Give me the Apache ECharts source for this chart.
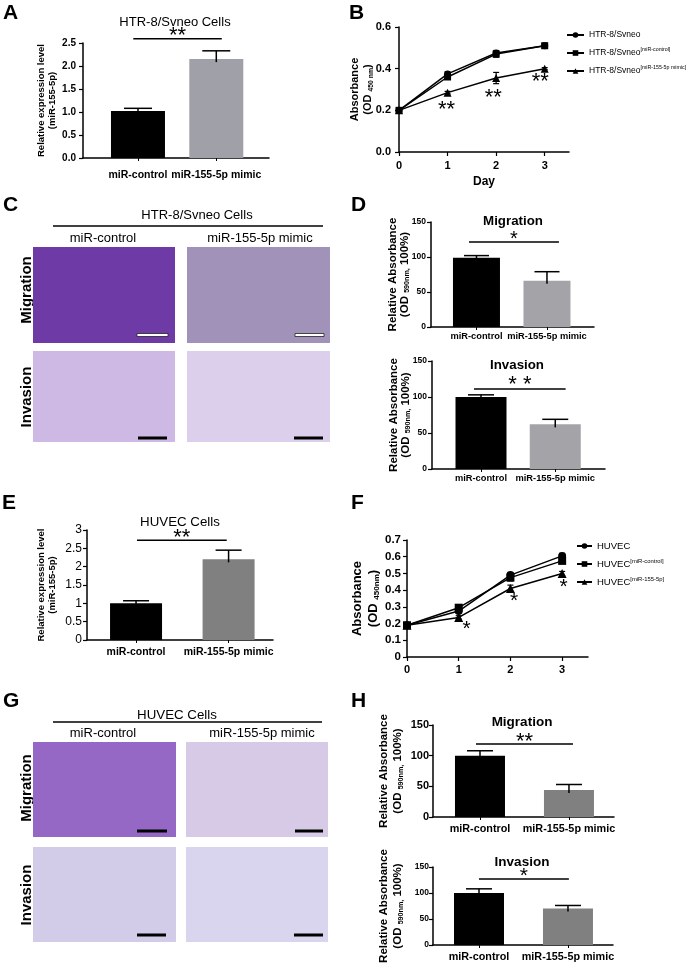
<!DOCTYPE html>
<html>
<head>
<meta charset="utf-8">
<script src="https://cdn.jsdelivr.net/npm/echarts@6/dist/echarts.min.js"></script>
<style>
html, body { margin: 0; padding: 0; background: #fff; }
#app { width: 692px; height: 969px; }
</style>
</head>
<body>
<div id="app"></div>
<script>
const FONT = '"Liberation Sans", Arial, sans-serif';

// bar panels, order: miR-control, miR-155-5p mimic
const barCats = ['miR-control', 'miR-155-5p mimic'];
const aMean = [1.02, 2.15];
const aErr = [0.06, 0.18];
const dMigMean = [99, 66];
const dMigErr = [3, 13];
const dInvMean = [100, 62];
const dInvErr = [3, 7];
const eMean = [1.0, 2.2];
const eErr = [0.07, 0.25];
const hMigMean = [100, 44];
const hMigErr = [8, 9];
const hInvMean = [100, 70];
const hInvErr = [8, 6];

// growth curves
const days = [0, 1, 2, 3];
const bNames = ['HTR-8/Svneo', 'HTR-8/Svneo[miR-control]', 'HTR-8/Svneo[miR-155-5p mimic]'];
const bParental = [0.20, 0.375, 0.475, 0.51];
const bParentalErr = [0.005, 0.01, 0.012, 0.01];
const bControl = [0.20, 0.36, 0.47, 0.51];
const bControlErr = [0.005, 0.01, 0.015, 0.012];
const bMimic = [0.20, 0.285, 0.355, 0.40];
const bMimicErr = [0.005, 0.006, 0.027, 0.005];
const bStarX = [0.98, 1.94, 2.91];
const bStarY = [0.218, 0.277, 0.354];

const fNames = ['HUVEC', 'HUVEC[miR-control]', 'HUVEC[miR-155-5p]'];
const fParental = [0.19, 0.275, 0.49, 0.605];
const fParentalErr = [0.005, 0.012, 0.015, 0.015];
const fControl = [0.19, 0.295, 0.475, 0.575];
const fControlErr = [0.005, 0.01, 0.02, 0.015];
const fMimic = [0.19, 0.237, 0.41, 0.50];
const fMimicErr = [0.005, 0.01, 0.02, 0.012];
const fStarX = [1.15, 2.07, 3.03];
const fStarY = [0.186, 0.35, 0.436];

const grids = [], xAxes = [], yAxes = [], series = [], legends = [];

function axisLine() {
    return { show: true, lineStyle: { color: '#000', width: 1.5 } };
}

function yName(p) {
    return {
        name: p.yName,
        nameLocation: 'middle',
        nameRotate: 90,
        nameGap: p.nameGap,
        nameMoveOverlap: false,
        nameTextStyle: {
            fontFamily: FONT, fontWeight: 'bold', fontSize: p.nameSize, color: '#000',
            lineHeight: p.nameSize * (p.nameLH || 1.2),
            rich: { sub: { fontFamily: FONT, fontWeight: 'bold', fontSize: p.nameSize * 0.62, verticalAlign: 'bottom', lineHeight: p.nameSize * 0.5 } }
        }
    };
}

function barPanel(p) {
    const i = grids.length;
    grids.push({ left: p.box[0], top: p.box[1], width: p.box[2], height: p.box[3] });
    xAxes.push({
        gridIndex: i, type: 'value', min: p.xRange[0], max: p.xRange[1],
        axisLine: axisLine(),
        axisTick: { show: true, customValues: [1, 2], length: 3, lineStyle: { color: '#000', width: 1 } },
        axisLabel: {
            customValues: [1, 2], formatter: v => barCats[Math.round(v) - 1],
            fontFamily: FONT, fontWeight: 'bold', fontSize: p.catSize, color: '#000', margin: p.catMargin
        },
        splitLine: { show: false }
    });
    yAxes.push(Object.assign({
        gridIndex: i, type: 'value', min: 0, max: p.yMax, interval: p.yStep,
        axisLine: axisLine(),
        axisTick: { show: true, length: 4, lineStyle: { color: '#000', width: 1.2 } },
        axisLabel: {
            formatter: p.tickFmt, fontFamily: FONT, fontWeight: p.tickWeight, fontSize: p.tickSize,
            color: '#000', margin: p.tickMargin
        },
        splitLine: { show: false }
    }, yName(p)));
    series.push({
        type: 'bar', xAxisIndex: i, yAxisIndex: i, barWidth: p.barW, silent: true,
        data: p.mean.map((m, k) => ({ value: [k + 1, m], itemStyle: { color: p.colors[k] } }))
    });
    series.push({
        type: 'custom', xAxisIndex: i, yAxisIndex: i, silent: true, clip: false, z: 3,
        data: p.mean.map((m, k) => [k + 1, m, p.err[k]]),
        renderItem: (params, api) => {
            const b = api.coord([api.value(0), api.value(1)]);
            const t = api.coord([api.value(0), api.value(1) + api.value(2)]);
            const hw = p.capW / 2;
            const st = { stroke: '#000', lineWidth: 1.5 };
            return { type: 'group', children: [
                { type: 'line', shape: { x1: b[0], y1: b[1] + 3, x2: t[0], y2: t[1] }, style: st },
                { type: 'line', shape: { x1: t[0] - hw, y1: t[1], x2: t[0] + hw, y2: t[1] }, style: st }
            ] };
        }
    });
    const s = p.sig;
    series.push({
        type: 'custom', xAxisIndex: i, yAxisIndex: i, silent: true, clip: false, z: 3,
        data: [[s.x1, s.x2, s.y]],
        renderItem: (params, api) => {
            const a = api.coord([api.value(0), api.value(2)]);
            const b = api.coord([api.value(1), api.value(2)]);
            return { type: 'group', children: [
                { type: 'line', shape: { x1: a[0], y1: a[1], x2: b[0], y2: b[1] }, style: { stroke: '#000', lineWidth: 1.5 } },
                { type: 'text', x: (a[0] + b[0]) / 2, y: a[1] - s.dy + s.size * 0.15,
                  style: { text: s.text, fontFamily: FONT, fontSize: s.size, fill: '#000', align: 'center', verticalAlign: 'middle' } }
            ] };
        }
    });
}

function linePanel(p) {
    const i = grids.length;
    grids.push({ left: p.box[0], top: p.box[1], width: p.box[2], height: p.box[3] });
    xAxes.push({
        gridIndex: i, type: 'value', min: 0, max: 3.5,
        axisLine: axisLine(),
        axisTick: { show: true, customValues: days, length: 4, lineStyle: { color: '#000', width: 1.2 } },
        axisLabel: { customValues: days, fontFamily: FONT, fontWeight: 'bold', fontSize: p.xTickSize, color: '#000', margin: p.xMargin },
        splitLine: { show: false },
        name: p.xName, nameLocation: 'middle', nameGap: p.xNameGap,
        nameTextStyle: { fontFamily: FONT, fontWeight: 'bold', fontSize: 12, color: '#000' }
    });
    yAxes.push(Object.assign({
        gridIndex: i, type: 'value', min: 0, max: p.yMax, interval: p.yStep,
        axisLine: axisLine(),
        axisTick: { show: true, length: 4, lineStyle: { color: '#000', width: 1.2 } },
        axisLabel: { formatter: p.tickFmt, fontFamily: FONT, fontWeight: 'bold', fontSize: p.tickSize, color: '#000', margin: p.tickMargin },
        splitLine: { show: false }
    }, yName(p)));
    const symbols = ['circle', 'rect', 'triangle'];
    p.groups.forEach((g, k) => {
        series.push({
            type: 'line', name: p.names[k], xAxisIndex: i, yAxisIndex: i, silent: true,
            data: days.map((d, j) => [d, g[j]]),
            symbol: symbols[k], symbolSize: p.symSize[k], showAllSymbol: true,
            lineStyle: { color: '#000', width: 1.5 }, itemStyle: { color: '#000' }, z: 4
        });
        series.push({
            type: 'custom', xAxisIndex: i, yAxisIndex: i, silent: true, clip: false, z: 3,
            data: days.map((d, j) => [d, g[j], p.errs[k][j]]),
            renderItem: (params, api) => {
                const lo = api.coord([api.value(0), api.value(1) - api.value(2)]);
                const hi = api.coord([api.value(0), api.value(1) + api.value(2)]);
                const st = { stroke: '#000', lineWidth: 1.2 };
                return { type: 'group', children: [
                    { type: 'line', shape: { x1: lo[0], y1: lo[1], x2: hi[0], y2: hi[1] }, style: st },
                    { type: 'line', shape: { x1: hi[0] - 3, y1: hi[1], x2: hi[0] + 3, y2: hi[1] }, style: st },
                    { type: 'line', shape: { x1: lo[0] - 3, y1: lo[1], x2: lo[0] + 3, y2: lo[1] }, style: st }
                ] };
            }
        });
    });
    series.push({
        type: 'custom', xAxisIndex: i, yAxisIndex: i, silent: true, clip: false, z: 5,
        data: p.starX.map((x, j) => [x, p.starY[j]]),
        renderItem: (params, api) => {
            const c = api.coord([api.value(0), api.value(1)]);
            return { type: 'text', x: c[0], y: c[1] + p.starSize * 0.15,
                style: { text: p.star, fontFamily: FONT, fontSize: p.starSize, fill: '#000', align: 'center', verticalAlign: 'middle' } };
        }
    });
    legends.push({
        data: p.names, orient: 'vertical', left: p.legendPos[0], top: p.legendPos[1], padding: 0,
        itemWidth: p.legendW, itemHeight: 7, itemGap: p.legendGap, selectedMode: false,
        formatter: name => name.replace(/(\[.*\])/, '{sup|$1}'),
        textStyle: {
            fontFamily: FONT, fontSize: p.legendSize, color: '#000', lineHeight: 12,
            rich: { sup: { fontFamily: FONT, fontSize: p.legendSize * 0.62, color: '#000', verticalAlign: 'top', lineHeight: 7 } }
        }
    });
}

barPanel({
    box: [83, 43, 186, 115], xRange: [0.298, 2.673], yMax: 2.5, yStep: 0.5,
    mean: aMean, err: aErr, colors: ['#000', '#a0a0a8'], barW: 54, capW: 28,
    tickFmt: v => v.toFixed(1), tickWeight: 'bold', tickSize: 10, tickMargin: 7,
    catSize: 10.5, catMargin: 12,
    yName: 'Relative expression level\n(miR-155-5p)', nameSize: 9.5, nameGap: 25,
    sig: { x1: 0.94, x2: 2.07, y: 2.59, text: '**', size: 22, dy: 6.5 }
});

linePanel({
    box: [399, 27, 170, 125], yMax: 0.6, yStep: 0.2, tickFmt: v => v.toFixed(1),
    tickSize: 11, tickMargin: 8, xTickSize: 11, xMargin: 8, xName: 'Day', xNameGap: 24,
    yName: 'Absorbance\n(OD {sub|450 nm})', nameSize: 11, nameGap: 24,
    names: bNames, groups: [bParental, bControl, bMimic], errs: [bParentalErr, bControlErr, bMimicErr],
    symSize: [7, 7, 8], starX: bStarX, starY: bStarY, star: '**', starSize: 22,
    legendPos: [566, 29], legendW: 17, legendGap: 6, legendSize: 8.5
});

barPanel({
    box: [431, 222, 163, 105], xRange: [0.355, 2.667], yMax: 150, yStep: 50,
    mean: dMigMean, err: dMigErr, colors: ['#000', '#a3a3a8'], barW: 47, capW: 25,
    tickFmt: v => String(v), tickWeight: 'bold', tickSize: 8.5, tickMargin: 5,
    catSize: 9.3, catMargin: 5,
    yName: 'Relative Absorbance\n(OD {sub|590nm,} 100%)', nameSize: 11.5, nameGap: 20, nameLH: 1.05,
    sig: { x1: 0.894, x2: 2.17, y: 121.4, text: '*', size: 20, dy: 5.3 }
});

barPanel({
    box: [432, 361, 173, 108], xRange: [0.34, 2.67], yMax: 150, yStep: 50,
    mean: dInvMean, err: dInvErr, colors: ['#000', '#a3a3a8'], barW: 51, capW: 26,
    tickFmt: v => String(v), tickWeight: 'bold', tickSize: 8.5, tickMargin: 5,
    catSize: 9.3, catMargin: 5,
    yName: 'Relative Absorbance\n(OD {sub|590nm,} 100%)', nameSize: 11.5, nameGap: 20, nameLH: 1.05,
    sig: { x1: 0.906, x2: 2.14, y: 111, text: '* *', size: 22, dy: 7.5 }
});

barPanel({
    box: [87, 530, 186, 110], xRange: [0.47, 2.48], yMax: 3, yStep: 0.5,
    mean: eMean, err: eErr, colors: ['#000', '#808080'], barW: 52, capW: 26,
    tickFmt: v => String(v), tickWeight: 'normal', tickSize: 12, tickMargin: 5,
    catSize: 10.5, catMargin: 7,
    yName: 'Relative expression level\n(miR-155-5p)', nameSize: 9.5, nameGap: 29,
    sig: { x1: 1.01, x2: 1.98, y: 2.72, text: '**', size: 22, dy: 5.5 }
});

linePanel({
    box: [407, 540, 181, 117], yMax: 0.7, yStep: 0.1, tickFmt: v => String(Math.round(v * 10) / 10),
    tickSize: 11.5, tickMargin: 6, xTickSize: 11, xMargin: 7, xName: '', xNameGap: 20,
    yName: 'Absorbance\n(OD {sub|450nm})', nameSize: 13, nameGap: 26,
    names: fNames, groups: [fParental, fControl, fMimic], errs: [fParentalErr, fControlErr, fMimicErr],
    symSize: [8, 8, 9], starX: fStarX, starY: fStarY, star: '*', starSize: 21,
    legendPos: [576, 540], legendW: 15, legendGap: 6, legendSize: 9.5
});

barPanel({
    box: [433, 725, 181, 92], xRange: [0.472, 2.506], yMax: 150, yStep: 50,
    mean: hMigMean, err: hMigErr, colors: ['#000', '#808080'], barW: 50, capW: 26,
    tickFmt: v => String(v), tickWeight: 'bold', tickSize: 11, tickMargin: 4,
    catSize: 10.8, catMargin: 7,
    yName: 'Relative Absorbance\n(OD {sub|590nm,} 100%)', nameSize: 11.5, nameGap: 28,
    sig: { x1: 0.955, x2: 2.045, y: 119, text: '**', size: 22, dy: 5.5 }
});

barPanel({
    box: [433, 867, 180, 78], xRange: [0.483, 2.506], yMax: 150, yStep: 50,
    mean: hInvMean, err: hInvErr, colors: ['#000', '#808080'], barW: 50, capW: 26,
    tickFmt: v => String(v), tickWeight: 'bold', tickSize: 8.5, tickMargin: 4,
    catSize: 10.8, catMargin: 7,
    yName: 'Relative Absorbance\n(OD {sub|590nm,} 100%)', nameSize: 11.5, nameGap: 28,
    sig: { x1: 1.0, x2: 2.01, y: 127, text: '*', size: 21, dy: 5.7 }
});

// texts, rules and micrograph placeholders
const graphics = [];
function txt(x, y, text, size, weight, align, rot) {
    graphics.push({
        type: 'text', x: x, y: y, rotation: rot || 0, silent: true,
        style: { text: text, fontFamily: FONT, fontSize: size, fontWeight: weight || 'normal', fill: '#000',
                 align: align || 'center', verticalAlign: 'middle' }
    });
}
function rule(x1, x2, y) {
    graphics.push({ type: 'line', silent: true, shape: { x1: x1, y1: y, x2: x2, y2: y }, style: { stroke: '#000', lineWidth: 1.5 } });
}
function plate(x1, y1, x2, y2, fill, barX1, barX2, barY, barFill) {
    graphics.push({ type: 'rect', silent: true, shape: { x: x1, y: y1, width: x2 - x1, height: y2 - y1 }, style: { fill: fill } });
    graphics.push({ type: 'rect', silent: true, shape: { x: barX1, y: barY - 1.5, width: barX2 - barX1, height: 3 },
                    style: { fill: barFill, stroke: barFill === '#fff' ? '#222' : null, lineWidth: 0.8 } });
}

[['A', 3, 13], ['B', 349, 13], ['C', 3, 205], ['D', 351, 205], ['E', 2, 503], ['F', 351, 503], ['G', 3, 701], ['H', 351, 701]]
    .forEach(l => txt(l[1], l[2], l[0], 21, 'bold', 'left'));

txt(175, 22, 'HTR-8/Svneo Cells', 13);
txt(513, 221, 'Migration', 13.3, 'bold');
txt(517, 365, 'Invasion', 13.3, 'bold');
txt(180, 522, 'HUVEC Cells', 13.3);
txt(522, 722, 'Migration', 13.5, 'bold');
txt(522, 862, 'Invasion', 13.5, 'bold');

// panel C
txt(197, 215, 'HTR-8/Svneo Cells', 13);
rule(53, 323, 226);
txt(103, 238, 'miR-control', 13);
txt(260, 238, 'miR-155-5p mimic', 13);
txt(27, 290, 'Migration', 15, 'bold', 'center', Math.PI / 2);
txt(27, 397, 'Invasion', 15, 'bold', 'center', Math.PI / 2);
plate(33, 247, 175, 343, '#6e3ba6', 137, 168, 335, '#fff');
plate(187, 247, 330, 343, '#a092b8', 295, 324, 335, '#fff');
plate(33, 351, 175, 442, '#cdb9e3', 138, 167, 438, '#000');
plate(187, 351, 330, 442, '#dccfec', 294, 323, 438, '#000');

// panel G
txt(177, 715, 'HUVEC Cells', 13.3);
rule(53, 322, 722);
txt(103, 733, 'miR-control', 13);
txt(262, 733, 'miR-155-5p mimic', 13);
txt(27, 788, 'Migration', 15, 'bold', 'center', Math.PI / 2);
txt(27, 895, 'Invasion', 15, 'bold', 'center', Math.PI / 2);
plate(33, 742, 176, 837, '#9568c6', 137, 167, 831, '#000');
plate(186, 742, 328, 837, '#d6cae7', 295, 323, 831, '#000');
plate(33, 847, 176, 942, '#d3cce9', 137, 166, 935, '#000');
plate(186, 847, 328, 942, '#d9d5ee', 294, 323, 935, '#000');

const myChart = echarts.init(document.getElementById('app'), null, { renderer: 'canvas' });
myChart.setOption({
    animation: false,
    backgroundColor: '#fff',
    grid: grids,
    xAxis: xAxes,
    yAxis: yAxes,
    legend: legends,
    series: series,
    graphic: graphics
});
</script>
</body>
</html>
